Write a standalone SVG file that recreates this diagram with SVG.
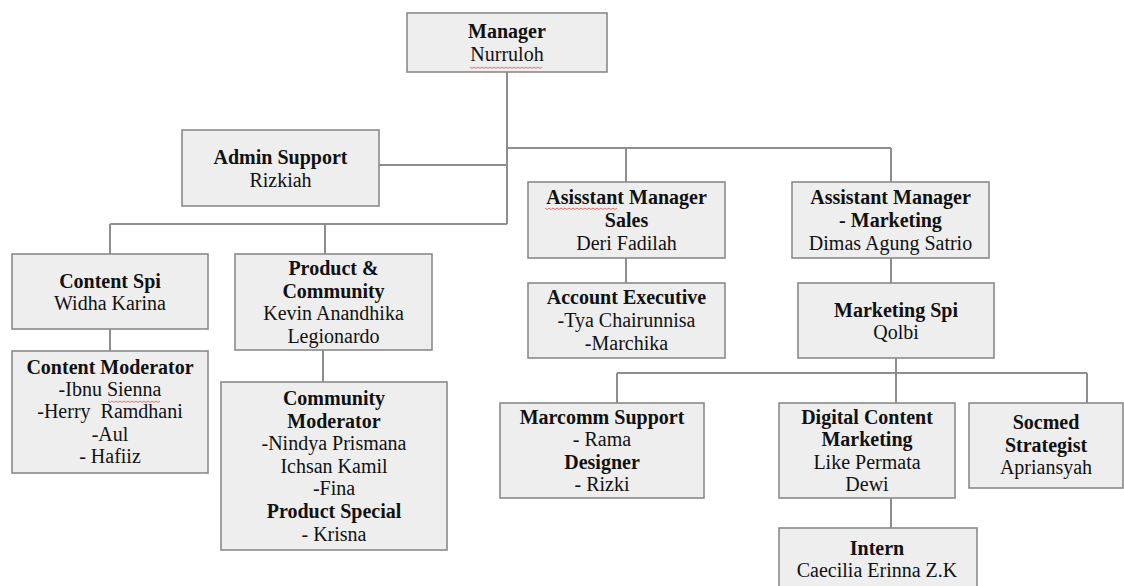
<svg xmlns="http://www.w3.org/2000/svg" width="1124" height="586" viewBox="0 0 1124 586">
<defs>
<style>
.box{fill:#eeeeee;stroke:#8a8a8a;stroke-width:1.6}
.ln{fill:none;stroke:#8e8e8e;stroke-width:2}
text{font-family:"Liberation Serif","Times New Roman",serif;font-size:20px;fill:#111;text-anchor:middle}
.b{font-weight:bold}
.sq{fill:none;stroke:#e07070;stroke-width:1}
</style>
</defs>
<rect width="1124" height="586" fill="#ffffff"/>
<g id="connectors">
<path class="ln" d="M507,72V224M379,165H507M507,148H891M626,148V182M891,148V182M110,224H507M110,224V254M325,224V254M110,329V351M323,350V382M626,258V283M891,258V283M896,358V403M617,373H1087M617,373V403M1087,373V403M891,498V528"/>
</g>
<g id="manager">
<rect class="box" x="407" y="13" width="200" height="59"/>
<text x="507" y="38" class="b">Manager</text>
<text x="507" y="61">Nurruloh</text>
<path class="sq" d="M470,67 l2,1.5 l2,-1.5 l2,1.5 l2,-1.5 l2,1.5 l2,-1.5 l2,1.5 l2,-1.5 l2,1.5 l2,-1.5 l2,1.5 l2,-1.5 l2,1.5 l2,-1.5 l2,1.5 l2,-1.5 l2,1.5 l2,-1.5 l2,1.5 l2,-1.5 l2,1.5 l2,-1.5 l2,1.5 l2,-1.5 l2,1.5 l2,-1.5 l2,1.5 l2,-1.5 l2,1.5 l2,-1.5 l2,1.5 l2,-1.5 l2,1.5 l2,-1.5 l2,1.5 l2,-1.5"/>
</g>
<g id="admin-support">
<rect class="box" x="182" y="130" width="197" height="76"/>
<text x="280.5" y="164" class="b">Admin Support</text>
<text x="280.5" y="187">Rizkiah</text>
</g>
<g id="content-spi">
<rect class="box" x="12" y="254" width="196" height="75"/>
<text x="110" y="288" class="b">Content Spi</text>
<text x="110" y="310">Widha Karina</text>
</g>
<g id="content-moderator">
<rect class="box" x="12" y="351" width="196" height="122"/>
<text x="110" y="374" class="b">Content Moderator</text>
<text x="110" y="396">-Ibnu Sienna</text>
<text x="110" y="418" style="white-space:pre">-Herry  Ramdhani</text>
<text x="110" y="441">-Aul</text>
<text x="110" y="463">- Hafiiz</text>
<path class="sq" d="M108,401 l2,1.5 l2,-1.5 l2,1.5 l2,-1.5 l2,1.5 l2,-1.5 l2,1.5 l2,-1.5 l2,1.5 l2,-1.5 l2,1.5 l2,-1.5 l2,1.5 l2,-1.5 l2,1.5 l2,-1.5 l2,1.5 l2,-1.5 l2,1.5 l2,-1.5 l2,1.5 l2,-1.5 l2,1.5 l2,-1.5 l2,1.5 l2,-1.5"/>
</g>
<g id="product-community">
<rect class="box" x="235" y="254" width="197" height="96"/>
<text x="333.5" y="275" class="b">Product &amp;</text>
<text x="333.5" y="298" class="b">Community</text>
<text x="333.5" y="320">Kevin Anandhika</text>
<text x="333.5" y="343">Legionardo</text>
</g>
<g id="community-moderator">
<rect class="box" x="221" y="382" width="226" height="168"/>
<text x="334" y="405" class="b">Community</text>
<text x="334" y="428" class="b">Moderator</text>
<text x="334" y="450">-Nindya Prismana</text>
<text x="334" y="473">Ichsan Kamil</text>
<text x="334" y="495">-Fina</text>
<text x="334" y="518" class="b">Product Special</text>
<text x="334" y="541">- Krisna</text>
</g>
<g id="am-sales">
<rect class="box" x="528" y="182" width="197" height="76"/>
<text x="626.5" y="204" class="b">Asisstant Manager</text>
<text x="626.5" y="227" class="b">Sales</text>
<text x="626.5" y="250">Deri Fadilah</text>
<path class="sq" d="M545,208 l2,1.5 l2,-1.5 l2,1.5 l2,-1.5 l2,1.5 l2,-1.5 l2,1.5 l2,-1.5 l2,1.5 l2,-1.5 l2,1.5 l2,-1.5 l2,1.5 l2,-1.5 l2,1.5 l2,-1.5 l2,1.5 l2,-1.5 l2,1.5 l2,-1.5 l2,1.5 l2,-1.5 l2,1.5 l2,-1.5 l2,1.5 l2,-1.5 l2,1.5 l2,-1.5 l2,1.5 l2,-1.5 l2,1.5 l2,-1.5 l2,1.5 l2,-1.5 l2,1.5 l2,-1.5"/>
</g>
<g id="account-executive">
<rect class="box" x="528" y="283" width="197" height="75"/>
<text x="626.5" y="304" class="b">Account Executive</text>
<text x="626.5" y="327">-Tya Chairunnisa</text>
<text x="626.5" y="350">-Marchika</text>
</g>
<g id="am-marketing">
<rect class="box" x="792" y="182" width="197" height="76"/>
<text x="890.5" y="204" class="b">Assistant Manager</text>
<text x="890.5" y="227" class="b">- Marketing</text>
<text x="890.5" y="250">Dimas Agung Satrio</text>
</g>
<g id="marketing-spi">
<rect class="box" x="798" y="283" width="196" height="75"/>
<text x="896" y="317" class="b">Marketing Spi</text>
<text x="896" y="339">Qolbi</text>
</g>
<g id="marcomm-support">
<rect class="box" x="500" y="403" width="204" height="95"/>
<text x="602" y="424" class="b">Marcomm Support</text>
<text x="602" y="446">- Rama</text>
<text x="602" y="469" class="b">Designer</text>
<text x="602" y="491">- Rizki</text>
</g>
<g id="digital-content">
<rect class="box" x="779" y="403" width="176" height="95"/>
<text x="867" y="424" class="b">Digital Content</text>
<text x="867" y="446" class="b">Marketing</text>
<text x="867" y="469">Like Permata</text>
<text x="867" y="491">Dewi</text>
</g>
<g id="socmed-strategist">
<rect class="box" x="969" y="403" width="154" height="85"/>
<text x="1046" y="429" class="b">Socmed</text>
<text x="1046" y="452" class="b">Strategist</text>
<text x="1046" y="474">Apriansyah</text>
</g>
<g id="intern">
<rect class="box" x="779" y="528" width="198" height="70"/>
<text x="877" y="555" class="b">Intern</text>
<text x="877" y="577">Caecilia Erinna Z.K</text>
</g>
</svg>
